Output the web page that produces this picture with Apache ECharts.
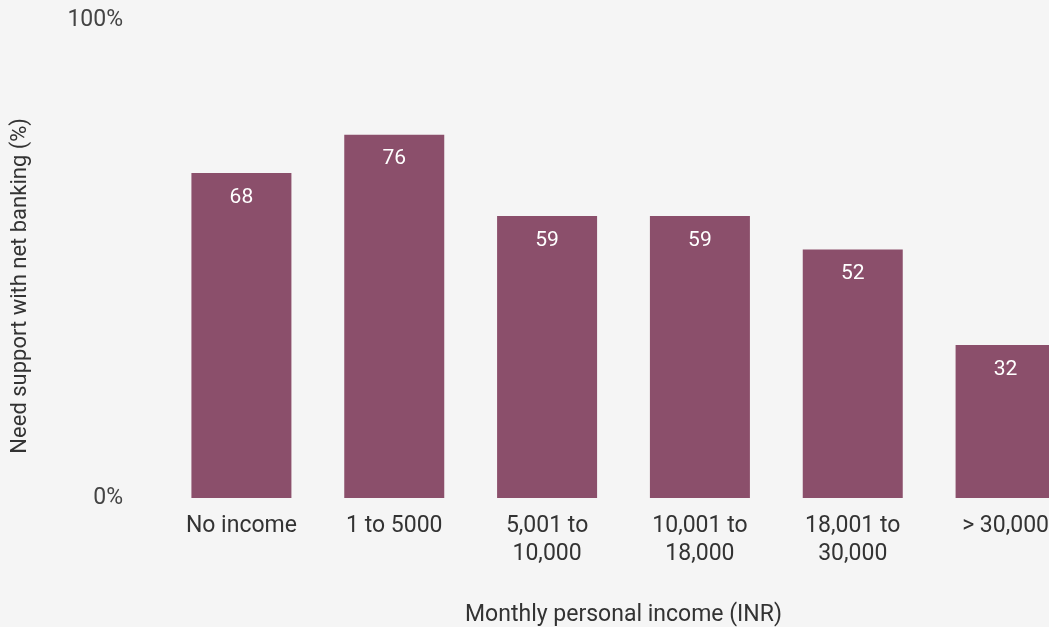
<!DOCTYPE html>
<html>
<head>
<meta charset="utf-8">
<script src="https://cdn.jsdelivr.net/npm/echarts@6/dist/echarts.min.js"></script>
<style>
  html, body { margin: 0; padding: 0; background: #f5f5f5; }
  #frame { position: relative; width: 1049px; height: 627px; overflow: hidden; }
  /* the last bar runs off the right edge, so the drawing area is wider than the frame */
  #chart { position: absolute; left: 0; top: 0; width: 1090px; height: 627px; }
</style>
</head>
<body>
<div id="frame"><div id="chart"></div></div>
<script>
// Income bands (INR per month) and share needing help with net banking
const categories = ['No income', '1 to 5000', '5,001 to\n10,000', '10,001 to\n18,000', '18,001 to\n30,000', '> 30,000'];
const values = [68, 76, 59, 59, 52, 32];
const yTicks = [0, 100];

const chart = echarts.init(document.getElementById('chart'), null, { renderer: 'canvas' });
const font = 'Roboto, "Noto Sans", sans-serif';

chart.setOption({
  backgroundColor: '#f5f5f5',
  animation: false,
  grid: {
    left: 165, top: 20, width: 917, height: 478,
    containLabel: false,
    outerBoundsMode: 'none'
  },
  xAxis: {
    type: 'category',
    data: categories,
    axisLine: { show: false },
    axisTick: { show: false },
    axisLabel: {
      color: '#333',
      fontFamily: font,
      fontSize: 23,
      lineHeight: 28,
      margin: 14,
      interval: 0
    },
    name: 'Monthly personal income (INR)',
    nameLocation: 'middle',
    nameGap: 106,
    nameTextStyle: { color: '#333', fontFamily: font, fontSize: 23 }
  },
  yAxis: {
    type: 'value',
    min: yTicks[0],
    max: yTicks[yTicks.length - 1],
    interval: 100,
    splitLine: { show: false },
    axisLine: { show: false },
    axisTick: { show: false },
    axisLabel: {
      color: '#444',
      fontFamily: font,
      fontSize: 23,
      margin: 42,
      formatter: v => v + '%'
    }
  },
  graphic: [{
    type: 'text',
    left: 9,
    top: 118,
    rotation: Math.PI / 2,
    style: {
      text: 'Need support with net banking (%)',
      fill: '#333',
      font: '22px ' + font
    }
  }],
  series: [{
    type: 'bar',
    data: values,
    barWidth: 100,
    itemStyle: { color: '#8b4f6b' },
    label: {
      show: true,
      position: 'insideTop',
      distance: 14,
      color: '#ffffff',
      fontFamily: font,
      fontSize: 21
    }
  }]
});
</script>
</body>
</html>
